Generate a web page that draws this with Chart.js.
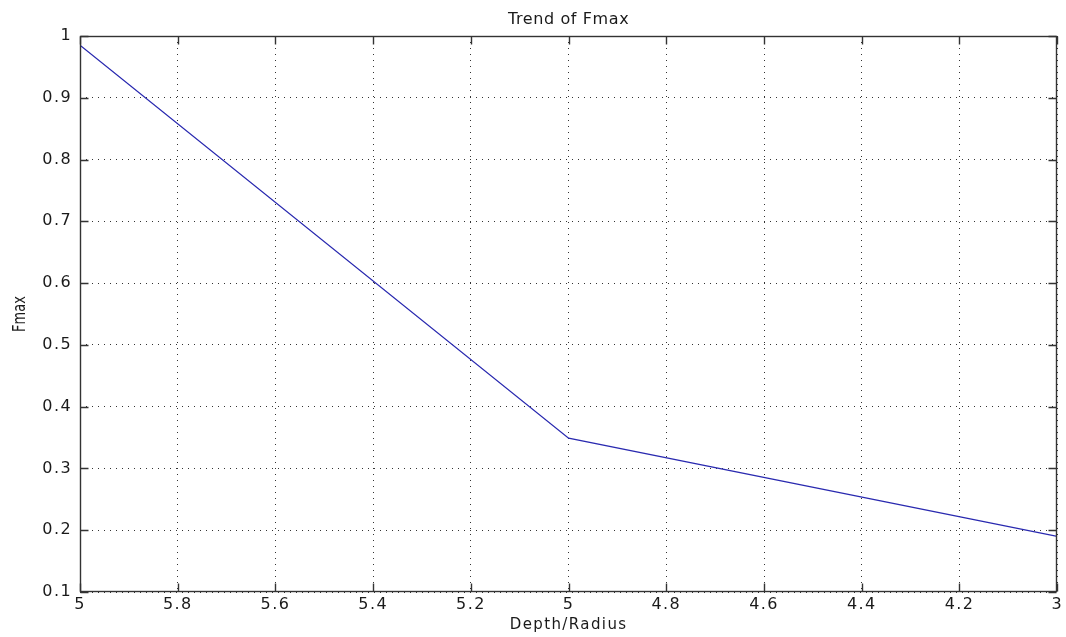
<!DOCTYPE html>
<html>
<head>
<meta charset="utf-8">
<script src="https://cdn.jsdelivr.net/npm/chart.js@4/dist/chart.umd.min.js"></script>
<style>
  html, body { margin: 0; padding: 0; background: #fff; }
  #c { display: block; }
</style>
</head>
<body>
<canvas id="c" width="1066" height="637"></canvas>
<script>
// ---- data ----
const depthRadius = [6, 5, 4];
const fmax = [0.985, 0.349, 0.19];

const xTickValues = [6, 5.8, 5.6, 5.4, 5.2, 5, 4.8, 4.6, 4.4, 4.2, 4];
const xTickLabels = ['5', '5.8', '5.6', '5.4', '5.2', '5', '4.8', '4.6', '4.4', '4.2', '3'];
const yTickValues = [0.1, 0.2, 0.3, 0.4, 0.5, 0.6, 0.7, 0.8, 0.9, 1];
const yTickLabels = ['0.1', '0.2', '0.3', '0.4', '0.5', '0.6', '0.7', '0.8', '0.9', '1'];

const chartTitle = 'Trend of Fmax';
const xTitle = 'Depth/Radius';
const yTitle = 'Fmax';

const FONT = "'DejaVu Sans', 'Liberation Sans', sans-serif";
const TEXT = '#1a1a1a';

function labelFor(values, labels, v) {
  let best = 0, bd = Infinity;
  values.forEach((tv, i) => { const d = Math.abs(tv - v); if (d < bd) { bd = d; best = i; } });
  return bd < 1e-6 ? labels[best] : '';
}

const SPACING = '1.4px';
const spacingPlugin = {
  id: 'spacing',
  beforeUpdate(c) { c.ctx.letterSpacing = SPACING; },
  beforeLayout(c) { c.ctx.letterSpacing = SPACING; },
  beforeDraw(c) { c.ctx.letterSpacing = SPACING; }
};

// chart title centred over the plot area, and the vertical y-axis title
const textPlugin = {
  id: 'texts',
  afterDraw(chart) {
    const { ctx, chartArea: a } = chart;
    ctx.save();
    ctx.letterSpacing = '0.6px';
    ctx.font = '16px ' + FONT;
    ctx.fillStyle = TEXT;
    ctx.textAlign = 'center';
    ctx.textBaseline = 'middle';
    ctx.fillText(chartTitle, (a.left + a.right) / 2, 20);
    ctx.restore();

    ctx.save();
    ctx.letterSpacing = '0px';
    ctx.font = '13px ' + FONT;
    ctx.fillStyle = TEXT;
    ctx.textAlign = 'center';
    ctx.textBaseline = 'middle';
    ctx.translate(20, (a.top + a.bottom) / 2);
    ctx.rotate(-Math.PI / 2);
    ctx.scale(1, 1.35);
    ctx.fillText(yTitle, 0, 0);
    ctx.restore();
  }
};

const framePlugin = {
  id: 'frame',
  afterDraw(chart) {
    const { ctx, chartArea: a, scales: { x, y } } = chart;
    const L = Math.round(a.left) + 0.5, R = Math.round(a.right) - 0.5;
    const T = Math.round(a.top) + 0.5, B = Math.round(a.bottom) - 0.5;
    const tl = 8;
    ctx.save();
    ctx.setLineDash([]);
    ctx.strokeStyle = '#333';
    ctx.lineWidth = 1.4;
    ctx.beginPath();
    x.ticks.forEach(t => {
      const px = Math.round(x.getPixelForValue(t.value)) + 0.5;
      ctx.moveTo(px, B); ctx.lineTo(px, B - tl);
      ctx.moveTo(px, T); ctx.lineTo(px, T + tl);
    });
    y.ticks.forEach(t => {
      const py = Math.round(y.getPixelForValue(t.value)) + 0.5;
      ctx.moveTo(L, py); ctx.lineTo(L + tl, py);
      ctx.moveTo(R, py); ctx.lineTo(R - tl, py);
    });
    ctx.stroke();
    ctx.strokeRect(L, T, R - L, B - T);
    ctx.restore();
  }
};

Chart.defaults.font.family = FONT;
Chart.defaults.color = TEXT;

new Chart(document.getElementById('c'), {
  type: 'line',
  data: {
    datasets: [{
      data: depthRadius.map((d, i) => ({ x: d, y: fmax[i] })),
      borderColor: '#2a2ab0',
      borderWidth: 1.3,
      pointRadius: 0,
      tension: 0,
      fill: false
    }]
  },
  options: {
    responsive: false,
    animation: false,
    layout: { padding: { left: 0, right: 8, top: 36, bottom: 0 } },
    plugins: {
      legend: { display: false },
      tooltip: { enabled: false },
      title: { display: false }
    },
    scales: {
      x: {
        type: 'linear',
        reverse: true,
        min: 4, max: 6,
        afterBuildTicks(scale) { scale.ticks = xTickValues.map(v => ({ value: v })); },
        afterFit(scale) { scale.height = 45; },
        ticks: {
          autoSkip: false,
          maxRotation: 0,
          padding: 3,
          font: { size: 16 },
          color: TEXT,
          callback: (v) => labelFor(xTickValues, xTickLabels, v)
        },
        grid: { color: '#333', lineWidth: 1, drawTicks: false },
        border: { display: false, dash: [1, 5] },
        title: {
          display: true, text: xTitle, color: TEXT,
          font: { size: 15 }, padding: { top: 0, bottom: 3 }
        }
      },
      y: {
        type: 'linear',
        min: 0.1, max: 1,
        afterBuildTicks(scale) { scale.ticks = yTickValues.map(v => ({ value: v })); },
        afterFit(scale) { scale.width = 80; },
        ticks: {
          autoSkip: false,
          padding: 8,
          font: { size: 16 },
          color: TEXT,
          callback: (v) => labelFor(yTickValues, yTickLabels, v)
        },
        grid: { color: '#333', lineWidth: 1, drawTicks: false },
        border: { display: false, dash: [1, 5] },
        title: { display: false }
      }
    }
  },
  plugins: [spacingPlugin, framePlugin, textPlugin]
});
</script>
</body>
</html>
